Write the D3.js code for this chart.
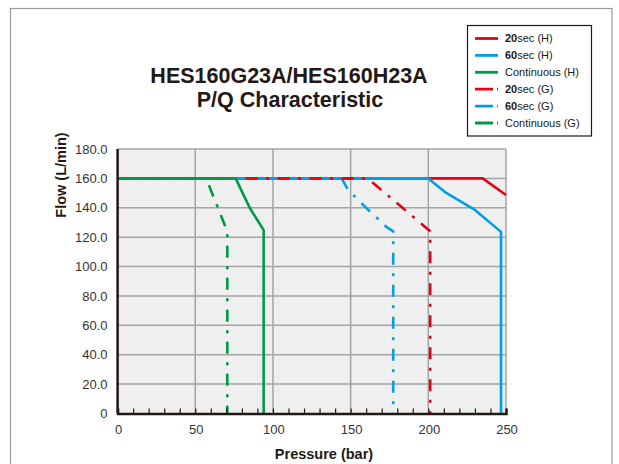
<!DOCTYPE html>
<html>
<head>
<meta charset="utf-8">
<script src="https://cdn.jsdelivr.net/npm/d3@7"></script>
<style>
  body { margin: 0; background: #fff; }
  svg { display: block; font-family: 'Liberation Sans', Arial, sans-serif; }
</style>
</head>
<body>
<svg id="chart" width="619" height="464"></svg>
<script>
// pressure (bar) / flow (L/min) points
const red20H = [[0, 160], [235, 160], [250, 148.7]];
const blue60H = [[0, 160], [200, 160], [210.7, 150.7], [230, 138.5], [246.8, 123.6], [246.8, 0]];
const greenContH = [[0, 160], [76, 160], [80.5, 150], [85.2, 139.7], [94, 124.8], [94, 0]];
const red20G = [[0, 160], [161, 160], [201.2, 124], [201.2, 0]];
const blue60G = [[0, 160], [144.2, 160], [148.5, 152], [158, 142], [173, 127], [177.4, 124], [177.4, 0]];
const greenContG = [[0, 160], [57, 160], [70.6, 124], [70.6, 0]];

const xTicks = [0, 50, 100, 150, 200, 250];
const yTicks = [0, 20, 40, 60, 80, 100, 120, 140, 160, 180];

const legendLabels = [
    { bold: '20', rest: 'sec (H)' },
    { bold: '60', rest: 'sec (H)' },
    { bold: '', rest: 'Continuous (H)' },
    { bold: '20', rest: 'sec (G)' },
    { bold: '60', rest: 'sec (G)' },
    { bold: '', rest: 'Continuous (G)' }
];

const RED = '#e60012';
const BLUE = '#00a0e9';
const GREEN = '#009944';
const DASHDOT = '12,8.5,3,8.5';

// draw order matters where the flat 160 parts overlap
const series = [
    { data: greenContG, color: GREEN, dash: DASHDOT },
    { data: blue60G, color: BLUE, dash: DASHDOT },
    { data: red20H, color: RED, dash: null },
    { data: blue60H, color: BLUE, dash: null },
    { data: red20G, color: RED, dash: DASHDOT },
    { data: greenContH, color: GREEN, dash: null }
];
const legendStyles = [
    { color: RED, dash: null },
    { color: BLUE, dash: null },
    { color: GREEN, dash: null },
    { color: RED, dash: '18,4,3,20' },
    { color: BLUE, dash: '18,4,3,20' },
    { color: GREEN, dash: '18,4,3,20' }
];

const margin = { top: 149, right: 113, bottom: 50.5, left: 117.6 };
const width = 619 - margin.left - margin.right;
const height = 464 - margin.top - margin.bottom;

const svg = d3.select('#chart');

// outer frame
svg.append('rect')
    .attr('x', 10.5).attr('y', 8.5)
    .attr('width', 601.5).attr('height', 470)
    .attr('fill', 'none')
    .attr('stroke', '#9a9a9a')
    .attr('stroke-width', 1.2);

// title
const title = svg.append('text')
    .attr('text-anchor', 'middle')
    .attr('font-weight', 'bold')
    .attr('font-size', 21.5)
    .attr('fill', '#231815');
title.append('tspan').attr('x', 289).attr('y', 83).text('HES160G23A/HES160H23A');
title.append('tspan').attr('x', 290).attr('y', 107).text('P/Q Characteristic');

const g = svg.append('g')
    .attr('transform', `translate(${margin.left},${margin.top})`);

const x = d3.scaleLinear().domain([0, 250]).range([0, width]);
const y = d3.scaleLinear().domain([0, 180]).range([height, 0]);

g.append('rect')
    .attr('width', width)
    .attr('height', height)
    .attr('fill', '#efefef');

// grid
g.append('g')
    .selectAll('line')
    .data(xTicks.slice(1))
    .enter()
    .append('line')
        .attr('x1', d => x(d)).attr('x2', d => x(d))
        .attr('y1', 0).attr('y2', height)
        .attr('stroke', '#a3a3a3')
        .attr('stroke-width', 1.5);

g.append('g')
    .selectAll('line')
    .data(yTicks.slice(1))
    .enter()
    .append('line')
        .attr('x1', 0).attr('x2', width)
        .attr('y1', d => y(d)).attr('y2', d => y(d))
        .attr('stroke', '#a3a3a3')
        .attr('stroke-width', 1.5);

// curves
const line = d3.line()
    .x(d => x(d[0]))
    .y(d => y(d[1]));

const plot = g.append('g');
plot.append('clipPath').attr('id', 'clip')
    .append('rect').attr('width', width + 1).attr('height', height + 4).attr('y', -2);

plot.attr('clip-path', 'url(#clip)')
    .selectAll('path')
    .data(series)
    .enter()
    .append('path')
        .attr('d', d => line(d.data))
        .attr('fill', 'none')
        .attr('stroke', d => d.color)
        .attr('stroke-width', 2.6)
        .attr('stroke-linejoin', 'round')
        .attr('stroke-dasharray', d => d.dash);

// axes
const xAxis = g.append('g')
    .attr('transform', `translate(0,${height})`)
    .call(d3.axisBottom(x).tickValues(d3.range(0, 251, 10)).tickSize(-5).tickFormat(''));
xAxis.select('.domain').attr('stroke', '#231815').attr('stroke-width', 2.5);
xAxis.selectAll('.tick line').attr('stroke', '#231815').attr('stroke-width', 1.2);

g.append('g')
    .selectAll('text')
    .data(xTicks)
    .enter()
    .append('text')
        .attr('x', d => x(d) + 1)
        .attr('y', height + 20)
        .attr('text-anchor', 'middle')
        .attr('font-size', 13)
        .attr('fill', '#333')
        .text(d => d);

g.append('line')
    .attr('x1', 0).attr('x2', 0)
    .attr('y1', 0).attr('y2', height)
    .attr('stroke', '#231815')
    .attr('stroke-width', 2.5);

g.append('g')
    .selectAll('text')
    .data(yTicks)
    .enter()
    .append('text')
        .attr('x', -10)
        .attr('y', d => y(d))
        .attr('dy', '0.36em')
        .attr('text-anchor', 'end')
        .attr('font-size', 13)
        .attr('fill', '#333')
        .text(d => d === 0 ? '0' : d3.format('.1f')(d));

// axis titles
svg.append('text')
    .attr('x', 324)
    .attr('y', 459)
    .attr('text-anchor', 'middle')
    .attr('font-weight', 'bold')
    .attr('font-size', 14.5)
    .attr('fill', '#231815')
    .text('Pressure (bar)');

svg.append('text')
    .attr('transform', 'translate(66,175) rotate(-90)')
    .attr('text-anchor', 'middle')
    .attr('font-weight', 'bold')
    .attr('font-size', 14.5)
    .attr('fill', '#231815')
    .text('Flow (L/min)');

// legend
const legend = svg.append('g');
legend.append('rect')
    .attr('x', 467.5).attr('y', 25.5)
    .attr('width', 124).attr('height', 110.5)
    .attr('fill', '#fff')
    .attr('stroke', '#231815')
    .attr('stroke-width', 1.2);

const rows = legend.selectAll('g.row')
    .data(legendLabels)
    .enter()
    .append('g')
        .attr('class', 'row')
        .attr('transform', (d, i) => `translate(0,${38.5 + i * 16.9})`);

rows.append('line')
    .attr('x1', 475).attr('x2', 498)
    .attr('y1', 0).attr('y2', 0)
    .attr('stroke', (d, i) => legendStyles[i].color)
    .attr('stroke-width', 2.8)
    .attr('stroke-dasharray', (d, i) => legendStyles[i].dash);

const labels = rows.append('text')
    .attr('x', 505)
    .attr('dy', '0.36em')
    .attr('font-size', 11)
    .attr('fill', '#231815');
labels.append('tspan').attr('font-weight', 'bold').text(d => d.bold);
labels.append('tspan').text(d => d.rest);
</script>
</body>
</html>
